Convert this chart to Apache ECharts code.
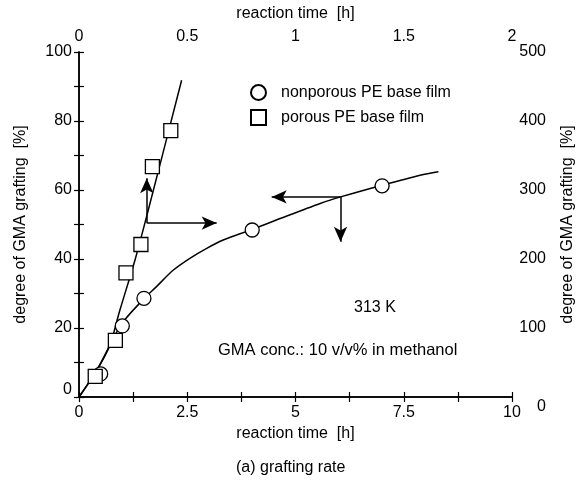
<!DOCTYPE html>
<html>
<head>
<meta charset="utf-8">
<script src="https://cdn.jsdelivr.net/npm/echarts@6/dist/echarts.min.js"></script>
<style>
  html, body { margin: 0; padding: 0; background: #fff; }
  #chart { width: 576px; height: 481px; }
</style>
</head>
<body>
<div id="chart"></div>
<script>
// nonporous PE base film: bottom axis [h] / left axis [%]
var nonporousTime = [0.5, 1.0, 1.5, 4.0, 7.0];
var nonporousDeg = [6.7, 20.6, 28.6, 48.4, 61.2];
// fitted curve
var nonporousCurveTime = [0, 0.4, 0.97, 1.47, 1.79, 2.18, 2.56, 2.95, 3.33, 3.72, 4.0, 4.5, 5.57, 6.04, 7.0, 7.88, 8.3];
var nonporousCurveDeg = [0, 7.5, 20.9, 28.1, 32.0, 36.8, 40.2, 43.1, 45.5, 47.3, 48.6, 51.0, 56.1, 58.0, 61.4, 64.3, 65.3];

// porous PE base film: top axis [h] / right axis [%]
var porousTime = [0.075, 0.168, 0.217, 0.286, 0.339, 0.424];
var porousDeg = [30, 82, 180, 221, 334, 386];
var porousCurveTime = [0, 0.0785, 0.140, 0.189, 0.259, 0.320, 0.474];
var porousCurveDeg = [0, 37, 73, 126, 199, 271, 459];

// arrows: [from, to]
var nonporousArrows = [[[6.04, 58], [4.45, 58]], [[6.04, 58], [6.04, 45]]];
var porousArrows = [[[0.313, 252], [0.313, 317]], [[0.313, 252], [0.636, 252]]];

var FONT = 'Liberation Sans';

function zip(a, b) {
  var out = [];
  for (var i = 0; i < a.length; i++) out.push([a[i], b[i]]);
  return out;
}
function arrowData(list) {
  return list.map(function (p) {
    return [{ coord: p[0] }, { coord: p[1] }];
  });
}

var axisCommon = {
  type: 'value',
  nameLocation: 'middle',
  nameTextStyle: { fontFamily: FONT, fontSize: 16, color: '#000' },
  axisLine: { show: true, lineStyle: { color: '#000', width: 1.5 } },
  axisTick: { show: true, inside: true, length: 5, lineStyle: { color: '#000', width: 1.2 } },
  minorTick: { show: true, splitNumber: 2, length: 5, lineStyle: { color: '#000', width: 1.2 } },
  axisLabel: { fontFamily: FONT, fontSize: 16, color: '#000' },
  splitLine: { show: false }
};

var chart = echarts.init(document.getElementById('chart'));
chart.setOption({
  animation: false,
  grid: { left: 79, right: 64, top: 52, bottom: 84, containLabel: false, outerBoundsMode: 'none' },
  legend: {
    orient: 'vertical',
    left: 245,
    top: 79,
    itemWidth: 15,
    itemHeight: 15,
    itemGap: 8,
    data: ['nonporous PE base film', 'porous PE base film'],
    textStyle: { fontFamily: FONT, fontSize: 16, color: '#000', padding: [0, 0, 0, 10] }
  },
  xAxis: [
    Object.assign({}, axisCommon, {
      position: 'bottom', min: 0, max: 10, interval: 2.5,
      name: 'reaction time  [h]', nameGap: 27,
      axisLabel: Object.assign({}, axisCommon.axisLabel, { margin: 8 })
    }),
    Object.assign({}, axisCommon, {
      position: 'top', min: 0, max: 2, interval: 0.5,
      name: 'reaction time  [h]', nameGap: 30,
      axisLabel: Object.assign({}, axisCommon.axisLabel, { margin: 7 })
    })
  ],
  yAxis: [
    Object.assign({}, axisCommon, {
      position: 'left', min: 0, max: 100, interval: 20,
      name: 'degree of GMA grafting  [%]', nameGap: 50, nameRotate: 90,
      axisLabel: Object.assign({}, axisCommon.axisLabel, {
        margin: 7,
        formatter: function (v) { return v === 0 ? '{z|0}' : String(v); },
        rich: { z: { fontFamily: FONT, fontSize: 16, color: '#000', padding: [0, 0, 14, 0] } }
      })
    }),
    Object.assign({}, axisCommon, {
      position: 'right', min: 0, max: 500, interval: 100,
      name: 'degree of GMA grafting  [%]', nameGap: 48, nameRotate: 90,
      axisLabel: Object.assign({}, axisCommon.axisLabel, {
        margin: 34, align: 'right',
        formatter: function (v) { return v === 0 ? '{z|0}' : String(v); },
        rich: { z: { fontFamily: FONT, fontSize: 16, color: '#000', padding: [20, 0, 0, 0] } }
      })
    })
  ],
  graphic: [
    { type: 'text', left: 354, top: 300, style: { text: '313 K', font: '16px "Liberation Sans"', fill: '#000' } },
    { type: 'text', left: 218, top: 342, style: { text: 'GMA conc.: 10 v/v% in methanol', font: '16.5px "Liberation Sans"', fill: '#000' } },
    { type: 'text', left: 236, top: 460, style: { text: '(a) grafting rate', font: '16px "Liberation Sans"', fill: '#000' } }
  ],
  series: [
    {
      name: 'nonporous curve', type: 'line', xAxisIndex: 0, yAxisIndex: 0,
      data: zip(nonporousCurveTime, nonporousCurveDeg), smooth: 0.3, showSymbol: false,
      lineStyle: { color: '#000', width: 1.5 }, silent: true, z: 1
    },
    {
      name: 'porous curve', type: 'line', xAxisIndex: 1, yAxisIndex: 1,
      data: zip(porousCurveTime, porousCurveDeg), smooth: 0.3, showSymbol: false,
      lineStyle: { color: '#000', width: 1.5 }, silent: true, z: 1
    },
    {
      name: 'nonporous PE base film', type: 'scatter', xAxisIndex: 0, yAxisIndex: 0,
      data: zip(nonporousTime, nonporousDeg), symbol: 'circle', symbolSize: 14,
      itemStyle: { color: '#fff', borderColor: '#000', borderWidth: 1.3, opacity: 1 }, z: 3,
      markLine: {
        silent: true, symbol: ['none', 'arrow'], symbolSize: [10, 15],
        label: { show: false },
        lineStyle: { color: '#000', width: 1.5, type: 'solid' },
        data: arrowData(nonporousArrows)
      }
    },
    {
      name: 'porous PE base film', type: 'scatter', xAxisIndex: 1, yAxisIndex: 1,
      data: zip(porousTime, porousDeg), symbol: 'rect', symbolSize: 14,
      itemStyle: { color: '#fff', borderColor: '#000', borderWidth: 1.3, opacity: 1 }, z: 3,
      markLine: {
        silent: true, symbol: ['none', 'arrow'], symbolSize: [10, 15],
        label: { show: false },
        lineStyle: { color: '#000', width: 1.5, type: 'solid' },
        data: arrowData(porousArrows)
      }
    }
  ]
});
</script>
</body>
</html>
